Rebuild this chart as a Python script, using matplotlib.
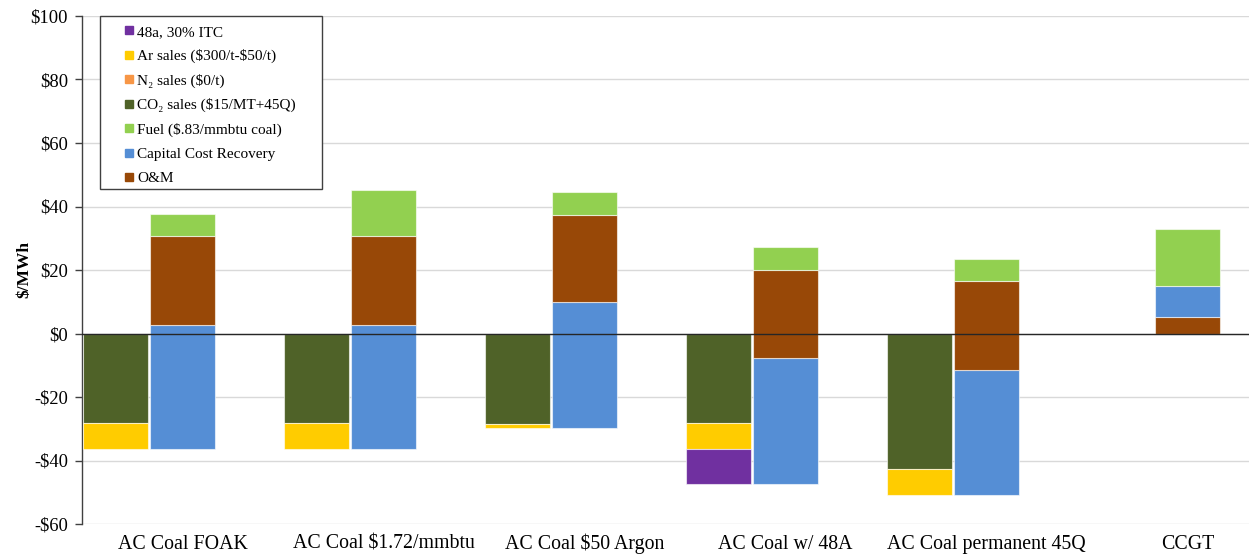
import matplotlib
matplotlib.use("Agg")
import matplotlib.pyplot as plt
from matplotlib.lines import Line2D
from matplotlib.patches import Rectangle
import numpy as np

plt.rcParams['font.family'] = ['Liberation Serif', 'DejaVu Serif']

# ---- data ($/MWh) ----
categories = ['AC Coal FOAK', 'AC Coal \\$1.72/mmbtu', 'AC Coal \\$50 Argon',
              'AC Coal w/ 48A', 'AC Coal permanent 45Q', 'CCGT']

# left bar: revenues (negative)
co2_sales = [-28.2, -28.2, -28.4, -28.2, -42.6, 0.0]
ar_sales = [-8.2, -8.2, -1.4, -8.3, -8.2, 0.0]
n2_sales = [0.0, 0.0, 0.0, 0.0, 0.0, 0.0]
itc_48a = [0.0, 0.0, 0.0, -10.8, 0.0, 0.0]

# right bar: costs, stacked up from the net revenue level
capital = [39.2, 39.2, 39.6, 39.6, 39.4, 9.9]
om = [27.8, 27.8, 27.6, 27.6, 27.8, 5.1]
fuel = [7.1, 14.6, 7.2, 7.3, 7.0, 18.0]

colors = {
    '48a': '#7030A0',
    'ar': '#FFCC00',
    'n2': '#F79646',
    'co2': '#4F6228',
    'fuel': '#92D050',
    'cap': '#558ED5',
    'om': '#984807',
}

fig = plt.figure(figsize=(12.49, 5.54), dpi=100)
# the original chart is cut off on the right, so the axes run past the figure edge
ax = fig.add_axes([82 / 1249, 30 / 554, 1206 / 1249, 508 / 554])

x = np.arange(len(categories))
w = 0.32
edge = dict(edgecolor=(1, 1, 1, 0.6), linewidth=0.8, zorder=3)

# revenue bars (stack downward)
for i in range(len(categories)):
    bottom = 0.0
    for val, key in [(co2_sales[i], 'co2'), (ar_sales[i], 'ar'),
                     (n2_sales[i], 'n2'), (itc_48a[i], '48a')]:
        if val != 0:
            ax.bar(x[i] - 1 / 3, val, w, bottom=bottom, color=colors[key], **edge)
            bottom += val

# cost bars
for i in range(len(categories)):
    base = co2_sales[i] + ar_sales[i] + n2_sales[i] + itc_48a[i]
    if categories[i] == 'CCGT':
        order = [(om[i], 'om'), (capital[i], 'cap'), (fuel[i], 'fuel')]
    else:
        order = [(capital[i], 'cap'), (om[i], 'om'), (fuel[i], 'fuel')]
    for val, key in order:
        ax.bar(x[i], val, w, bottom=base, color=colors[key], **edge)
        base += val

ax.axhline(0, color='#262626', lw=1.0, zorder=4)

ax.set_xlim(-0.5, len(categories) - 0.5)
ax.set_ylim(-60, 100)
ax.set_yticks(np.arange(-60, 101, 20))
ax.set_yticklabels([('-\\$%d' % -v) if v < 0 else ('\\$%d' % v) for v in range(-60, 101, 20)],
                   fontsize=13.3)
ax.yaxis.grid(True, color='#d9d9d9', lw=1.0, zorder=0)
ax.set_axisbelow(True)

ax.set_xticks(x)
ax.set_xticklabels(categories, fontsize=14.3)
ax.tick_params(axis='x', length=0, pad=18)
for t in ax.get_xticklabels():
    t.set_va('baseline')
ax.tick_params(axis='y', length=5, width=1, color='#404040', direction='out', pad=5)

for s in ['top', 'right', 'bottom']:
    ax.spines[s].set_visible(False)
ax.spines['left'].set_color('#404040')
ax.spines['left'].set_linewidth(1.0)

ax.set_ylabel('\\$/MWh', fontsize=12.5, fontweight='bold', labelpad=-1)

# legend: frame drawn separately so the entries can sit with Excel-like padding
fig.patches.append(Rectangle((100 / 1249, 1 - 189 / 554), 222 / 1249, 173 / 554,
                             transform=fig.transFigure, facecolor='white',
                             edgecolor='#404040', linewidth=1.0, zorder=5))
leg_items = [('48a, 30% ITC', '48a'), ('Ar sales (\\$300/t-\\$50/t)', 'ar'),
             ('N\u2082 sales (\\$0/t)', 'n2'), ('CO\u2082 sales (\\$15/MT+45Q)', 'co2'),
             ('Fuel (\\$.83/mmbtu coal)', 'fuel'), ('Capital Cost Recovery', 'cap'),
             ('O&M', 'om')]
handles = [Line2D([], [], ls='', marker='s', markersize=5.5, color=colors[k], label=t)
           for t, k in leg_items]
leg = fig.legend(handles=handles, loc='upper left',
                 bbox_to_anchor=(126 / 1249, 1 - 25 / 554), borderaxespad=0,
                 prop={'size': 11}, frameon=False,
                 handlelength=0.45, handletextpad=0.3, labelspacing=0.68,
                 borderpad=0)
leg.set_zorder(6)

fig.savefig('out.png', dpi=100)
